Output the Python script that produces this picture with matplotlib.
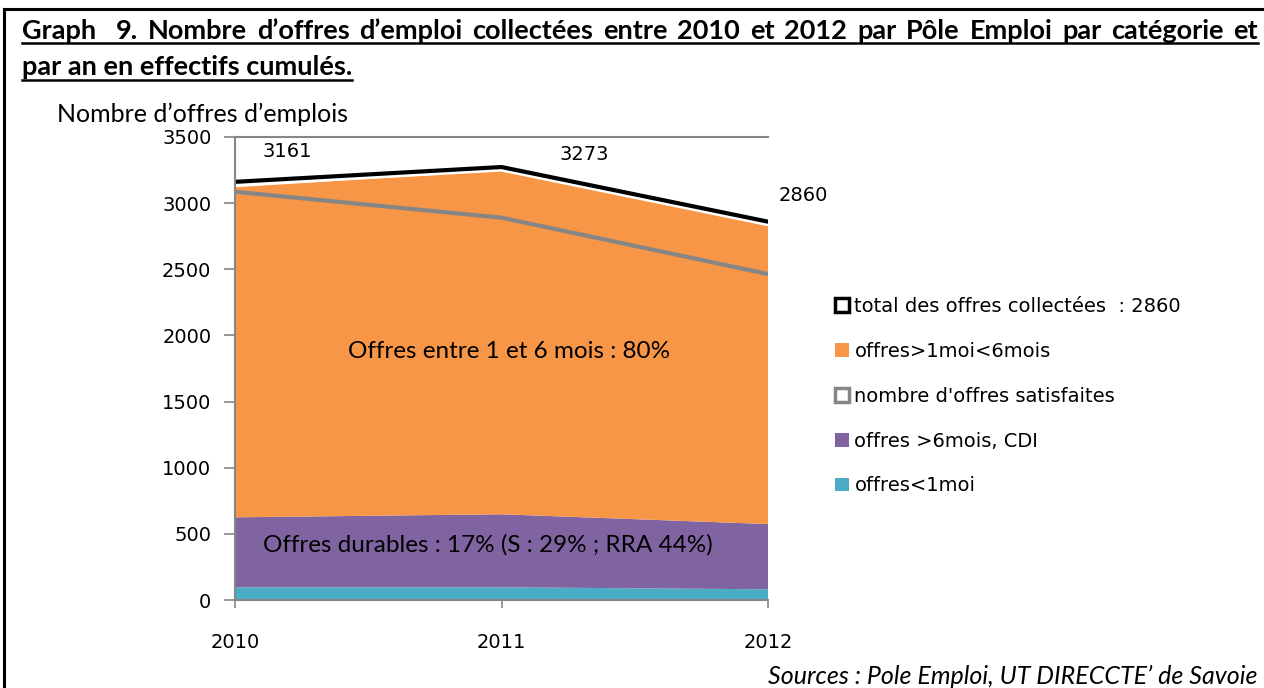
import matplotlib
matplotlib.use("Agg")
import matplotlib.pyplot as plt
import matplotlib.patheffects as pe
from matplotlib.patches import Patch
from matplotlib.lines import Line2D

# --- data ---
years = [2010, 2011, 2012]
offres_moins_1mois = [96, 96, 81]
offres_6mois_cdi = [529, 552, 493]
offres_1_6mois = [2495, 2597, 2281]
offres_satisfaites = [3086, 2890, 2464]
total_offres = [3161, 3273, 2860]
yticks = [0, 500, 1000, 1500, 2000, 2500, 3000, 3500]

legend_labels = [
    "total des offres collectées  : 2860",
    "offres>1moi<6mois",
    "nombre d'offres satisfaites",
    "offres >6mois, CDI",
    "offres<1moi",
]

title_line1 = ["Graph", "9.", "Nombre", "d’offres", "d’emploi", "collectées", "entre",
               "2010", "et", "2012", "par", "Pôle", "Emploi", "par", "catégorie", "et"]
title_line2 = "par an en effectifs cumulés."

ORANGE = "#F79646"
PURPLE = "#8064A2"
CYAN = "#4BACC6"
GRAY = "#868686"

W, H = 1264, 688
TITLE_FONT = "Lato"
TICK_FONT = "DejaVu Sans"


def fx(px):
    return px / W


def fy(py):
    return 1 - py / H


fig = plt.figure(figsize=(W / 100, H / 100), dpi=100)
renderer = fig.canvas.get_renderer()

# outer frame (top and left edges only)
fig.add_artist(Line2D([fx(4), fx(4)], [fy(688), fy(9)], color="black", lw=2.2))
fig.add_artist(Line2D([fx(4), 1], [fy(9), fy(9)], color="black", lw=2.2))

# title, first line justified between x=22 and x=1258
title_kw = dict(family=TITLE_FONT, fontweight="bold", fontsize=19.5, va="baseline")
texts = [fig.text(0, fy(39), w, **title_kw) for w in title_line1]
widths = [t.get_window_extent(renderer).width for t in texts]
weights = [2] + [1] * (len(texts) - 2)
gap = (1258 - 22 - sum(widths)) / sum(weights)
x = 22
for t, w, k in zip(texts, widths, weights + [0]):
    t.set_x(fx(x))
    x += w + gap * k
fig.add_artist(Line2D([fx(22), fx(1258)], [fy(43), fy(43)], color="black", lw=1.8))

t2 = fig.text(fx(22), fy(75), title_line2, **title_kw)
w2 = t2.get_window_extent(renderer).width
fig.add_artist(Line2D([fx(22), fx(22 + w2)], [fy(80), fy(80)], color="black", lw=1.8))

fig.text(fx(57), fy(122), "Nombre d’offres d’emplois", family=TITLE_FONT,
         fontsize=18, va="baseline")

# --- chart ---
ax = fig.add_axes([fx(235), fy(600), (768 - 235) / W, (600 - 137) / H])
ax.stackplot(years, offres_moins_1mois, offres_6mois_cdi, offres_1_6mois,
             colors=[CYAN, PURPLE, ORANGE], linewidth=0)
ax.plot(years, offres_satisfaites, color=GRAY, lw=3)
ax.plot(years, total_offres, color="black", lw=3,
        path_effects=[pe.SimpleLineShadow(offset=(0, -1.8), shadow_color="white", alpha=1),
                      pe.Normal()])

label_offsets = [(52, 30), (83, 13), (35, 26)]
for xv, yv, off in zip(years, total_offres, label_offsets):
    ax.annotate(str(yv), (xv, yv), xytext=off, textcoords="offset pixels",
                ha="center", va="center", family=TICK_FONT, fontsize=14)

ax.text(2011.03, 1880, "Offres entre 1 et 6 mois : 80%", family=TITLE_FONT,
        fontsize=17.5, ha="center", va="center")
ax.text(2010.95, 415, "Offres durables : 17% (S : 29% ; RRA 44%)", family=TITLE_FONT,
        fontsize=17.5, ha="center", va="center")

ax.set_xlim(2010, 2012)
ax.set_ylim(0, 3500)
ax.set_xticks(years)
ax.set_yticks(yticks)
ax.set_xticklabels([str(y) for y in years], family=TICK_FONT, fontsize=14)
ax.set_yticklabels([str(y) for y in yticks], family=TICK_FONT, fontsize=14)
ax.tick_params(axis="y", direction="out", length=8, width=1.2, color=GRAY, pad=9)
ax.tick_params(axis="x", direction="out", length=6, width=1.2, color=GRAY, pad=18)
for side in ["left", "bottom", "top"]:
    ax.spines[side].set_color(GRAY)
    ax.spines[side].set_linewidth(1.5)
ax.spines["right"].set_visible(False)
ax.patch.set_alpha(0)

handles = [
    Patch(facecolor="white", edgecolor="black", lw=2.5),
    Patch(facecolor=ORANGE, edgecolor="none"),
    Patch(facecolor="white", edgecolor=GRAY, lw=2.5),
    Patch(facecolor=PURPLE, edgecolor="none"),
    Patch(facecolor=CYAN, edgecolor="none"),
]
fig.legend(handles, legend_labels, loc="upper left", bbox_to_anchor=(fx(835), fy(297)),
           frameon=False, prop={"family": TICK_FONT, "size": 14},
           handlelength=0.7, handleheight=0.7, handletextpad=0.3, labelspacing=1.33,
           borderaxespad=0, borderpad=0)

fig.text(fx(1258), fy(676), "Sources : Pole Emploi, UT DIRECCTE’ de Savoie",
         family=TITLE_FONT, style="italic", fontsize=18, ha="right", va="center")

fig.savefig("out.png", dpi=100)
